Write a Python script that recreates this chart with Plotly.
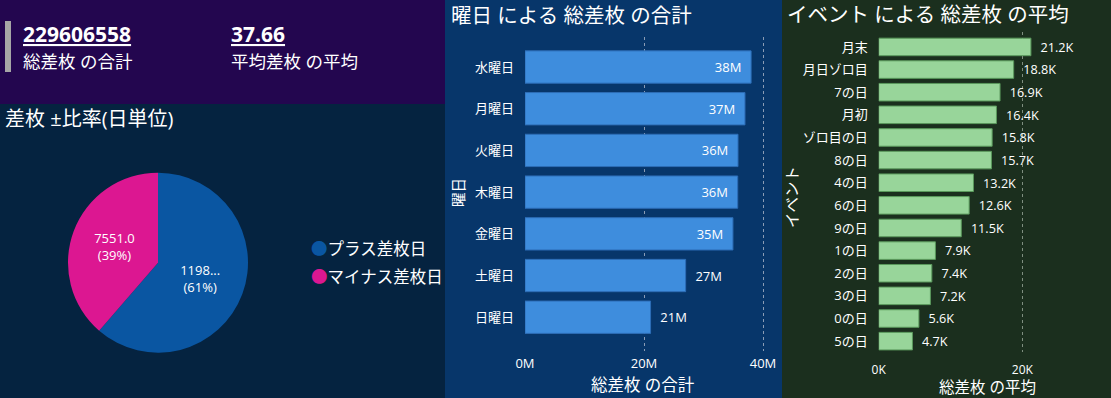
import plotly.graph_objects as go

W, H = 1111, 398

# ---------------- data ----------------
kpi_total = "229606558"
kpi_total_label = "総差枚 の合計"
kpi_avg = "37.66"
kpi_avg_label = "平均差枚 の平均"

pie_labels = ["プラス差枚日", "マイナス差枚日"]
pie_values = [11985, 7551]
pie_value_text = ["1198...", "7551.0"]
pie_colors = ["#0a56a2", "#dc1791"]

days = ["水曜日", "月曜日", "火曜日", "木曜日", "金曜日", "土曜日", "日曜日"]
day_totals = [38.0e6, 36.97e6, 35.8e6, 35.75e6, 34.95e6, 27.0e6, 21.1e6]
day_text_pos = ["inside", "inside", "inside", "inside", "inside", "outside", "outside"]
day_ticks = [0, 20e6, 40e6]
day_ticktext = ["0M", "20M", "40M"]

events = ["月末", "月日ゾロ目", "7の日", "月初", "ゾロ目の日", "8の日", "4の日",
          "6の日", "9の日", "1の日", "2の日", "3の日", "0の日", "5の日"]
event_avgs = [21200, 18800, 16900, 16400, 15800, 15700, 13200,
              12600, 11500, 7900, 7400, 7200, 5600, 4700]
event_ticks = [0, 20000]
event_ticktext = ["0K", "20K"]

FONT = "Segoe UI, Open Sans, Noto Sans CJK JP, sans-serif"
NB = "\u00a0"


def px(x):
    return x / W


def py(y):
    return 1 - y / H


fig = go.Figure()

# ---------------- pie ----------------
fig.add_trace(go.Pie(
    labels=pie_labels, values=pie_values, text=pie_value_text,
    texttemplate="%{text}<br>(%{percent:.0%})",
    textposition="inside", insidetextorientation="horizontal",
    textfont=dict(family=FONT, size=13, color="white"),
    marker=dict(colors=pie_colors, line=dict(width=0)),
    sort=False, direction="clockwise", rotation=0,
    domain=dict(x=[px(68), px(248)], y=[py(352.7), py(172.7)]),
    showlegend=False, hoverinfo="skip",
))

# ---------------- weekday bars ----------------
day_labels = []
for v, pos in zip(day_totals, day_text_pos):
    s = f"{round(v / 1e6)}M"
    day_labels.append(NB * 2 + s if pos == "outside" else s + NB * 2)

fig.add_trace(go.Bar(
    y=days, x=day_totals, orientation="h",
    text=day_labels,
    textposition=day_text_pos, insidetextanchor="end",
    textfont=dict(family=FONT, size=13, color="white"),
    insidetextfont=dict(family=FONT, size=13, color="white"),
    outsidetextfont=dict(family=FONT, size=13, color="white"),
    marker=dict(color="#3e8ddd", line=dict(color="#2d6db6", width=1)),
    cliponaxis=False, xaxis="x", yaxis="y", showlegend=False, hoverinfo="skip",
))

# ---------------- event bars ----------------
fig.add_trace(go.Bar(
    y=events, x=event_avgs, orientation="h",
    text=[NB * 2 + f"{v / 1000:.1f}K" for v in event_avgs],
    textposition="outside",
    textfont=dict(family=FONT, size=13, color="white"),
    marker=dict(color="#98d59a", line=dict(color="#5a995c", width=1)),
    cliponaxis=False, xaxis="x2", yaxis="y2", showlegend=False, hoverinfo="skip",
))

x1_right = 768
x2_right = 1100
fig.update_layout(
    template="none",
    width=W, height=H, autosize=False,
    margin=dict(l=0, r=0, t=0, b=0, pad=0, autoexpand=False),
    paper_bgcolor="#052340", plot_bgcolor="rgba(0,0,0,0)",
    font=dict(family=FONT, color="white"),
    bargap=0.225,
    xaxis=dict(
        domain=[px(525), px(x1_right)],
        range=[0, 40e6 * (x1_right - 525) / 238],
        tickvals=day_ticks, ticktext=day_ticktext,
        tickfont=dict(family=FONT, size=13, color="white"),
        showgrid=True, gridcolor="#8a9cb5", griddash="dot", gridwidth=1,
        zeroline=False, showline=False, ticks="", ticklabelstandoff=3,
        anchor="y", automargin=False,
    ),
    yaxis=dict(
        domain=[py(351), py(37)],
        type="category", categoryorder="array", categoryarray=days,
        range=[6 + 0.81, -0.72],
        tickfont=dict(family=FONT, size=13, color="white"),
        showgrid=False, zeroline=False, showline=False, ticks="",
        ticklabelstandoff=10, anchor="x", automargin=False,
    ),
    xaxis2=dict(
        domain=[px(878.7), px(x2_right)],
        range=[0, 20000 * (x2_right - 878.7) / 143.6],
        tickvals=event_ticks, ticktext=event_ticktext,
        tickfont=dict(family=FONT, size=12, color="white"),
        showgrid=True, gridcolor="#7f8f80", griddash="dot", gridwidth=1,
        zeroline=False, showline=False, ticks="", ticklabelstandoff=9,
        anchor="y2", automargin=False,
    ),
    yaxis2=dict(
        domain=[py(352), py(32)],
        type="category", categoryorder="array", categoryarray=events,
        range=[13 + 0.48, -0.66],
        tickfont=dict(family=FONT, size=13, color="white"),
        showgrid=False, zeroline=False, showline=False, ticks="",
        ticklabelstandoff=10, anchor="x2", automargin=False,
    ),
)

# ---------------- panel backgrounds ----------------
shapes = [
    dict(type="rect", xref="paper", yref="paper", x0=px(0), x1=px(445), y0=py(104), y1=py(0),
         fillcolor="#23064f", line=dict(width=0), layer="below"),
    dict(type="rect", xref="paper", yref="paper", x0=px(0), x1=px(445), y0=py(398), y1=py(104),
         fillcolor="#052340", line=dict(width=0), layer="below"),
    dict(type="rect", xref="paper", yref="paper", x0=px(445), x1=px(782), y0=py(398), y1=py(0),
         fillcolor="#07366a", line=dict(width=0), layer="below"),
    dict(type="rect", xref="paper", yref="paper", x0=px(782), x1=px(1111), y0=py(398), y1=py(0),
         fillcolor="#1b2f1e", line=dict(width=0), layer="below"),
    dict(type="rect", xref="paper", yref="paper", x0=px(5), x1=px(11), y0=py(72), y1=py(21),
         fillcolor="#a6a6a6", line=dict(width=0), layer="below"),
]
fig.update_layout(shapes=shapes)

# ---------------- text ----------------
ann = []


def text(x, y, s, size, xanchor="left", yanchor="middle", angle=0, **fontkw):
    ann.append(dict(xref="paper", yref="paper", x=px(x), y=py(y), text=s,
                    showarrow=False, xanchor=xanchor, yanchor=yanchor, textangle=angle,
                    font=dict(family=FONT, size=size, color="white", **fontkw)))


# KPI card
text(21, 34, f"<b>{kpi_total}</b>", 21, lineposition="under")
text(21, 61, kpi_total_label, 17.5)
text(229, 34, f"<b>{kpi_avg}</b>", 21, lineposition="under")
text(229, 61, kpi_avg_label, 17.5)

# pie title and legend
text(3, 118, "差枚 ±比率(日単位)", 20)
for i, (lab, col) in enumerate(zip(pie_labels, pie_colors)):
    yy = 248 + i * 28.5
    text(309, yy, f"<span style='color:{col}'>●</span>{lab}", 16.5)

# weekday chart texts
text(449, 15, "曜日 による 総差枚 の合計", 20.5)
text(643, 384, "総差枚 の合計", 16.5, xanchor="center")
text(458, 193, "曜日", 14.5, xanchor="center", angle=-90)

# event chart texts
text(785, 14, "イベント による 総差枚 の平均", 20.5)
text(987, 387, "総差枚 の平均", 15.5, xanchor="center")
text(792, 197, "イベント", 15.5, xanchor="center", angle=-90)

fig.update_layout(annotations=ann)

fig.write_html(
    "out.html",
    config={"displayModeBar": False, "responsive": False},
    post_script="document.body.style.margin='0';document.body.style.overflow='hidden';",
)
